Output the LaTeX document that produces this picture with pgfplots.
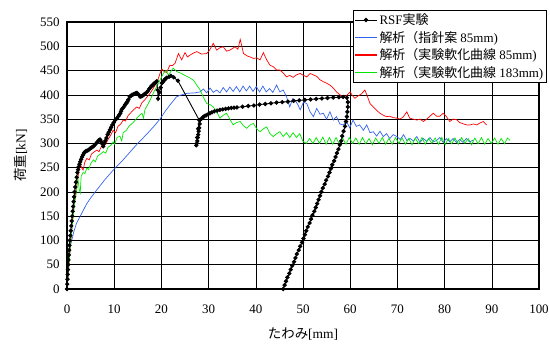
\documentclass[border=0pt]{standalone}
\usepackage{fontspec}
\setmainfont{Liberation Serif}
\newfontfamily\jp{Noto Sans CJK JP}
\usepackage{pgfplots}
\pgfplotsset{compat=1.18}
\definecolor{cblue}{RGB}{50,100,240}
\definecolor{cgreen}{RGB}{0,230,0}
\begin{document}
\begin{tikzpicture}
\begin{axis}[
 scale only axis, width=472bp, height=267bp,
 xmin=0, xmax=100, ymin=0, ymax=550,
 xtick={0,10,...,100}, ytick={0,50,...,550},
 grid=major, major grid style={black, line width=0.6bp},
 axis line style={line width=1.2bp},
 major tick length=0pt,
 tick label style={font=\fontsize{13}{15}\selectfont},
 xticklabel style={yshift=-12bp},
 yticklabel style={xshift=-4bp},
 /pgf/number format/assume math mode=true,
 xlabel={{\jp たわみ}[mm]}, ylabel={{\jp 荷重}[kN]},
 label style={font=\fontsize{13.5}{15}\selectfont},
 xlabel style={yshift=-8bp},
 ylabel style={yshift=6bp},
 legend cell align=left,
 legend style={at={(1.017,1.045)}, anchor=north east, draw=black, line width=0.6bp, fill=white,
   font=\fontsize{13}{14}\selectfont, inner sep=1.5bp, row sep=1bp},
 legend image code/.code={\draw[mark repeat=2,mark phase=2,#1] plot coordinates {(0bp,0bp) (11bp,0bp) (22bp,0bp)};},
]
\addlegendimage{black, line width=0.9pt, mark=*, mark size=1.7pt}
\addlegendentry{RSF{\jp 実験}}
\addlegendimage{cblue, line width=1.1pt}
\addlegendentry{{\jp 解析（指針案} 85mm)}
\addlegendimage{red, line width=1.1pt}
\addlegendentry{{\jp 解析（実験軟化曲線} 85mm)}
\addlegendimage{cgreen, line width=1.1pt}
\addlegendentry{{\jp 解析（実験軟化曲線} 183mm)}

% blue
\addplot[cblue, line width=0.7pt, forget plot] coordinates {
(0,0)(0.3,50)(0.6,85)(1,100)(1.5,120)(2,135)(2.75,149)(3.5,163)(4.2,176)(5.2,190)(6.3,204)(8,225)(9.8,245)(11.8,265)(13.7,286)(15,300)(17,320)(18.5,336)(19.7,350)(20.8,366)(21.8,379)(23.2,396)(24.3,400)(25.4,403)(27,404)(28.2,406)
(28.9,412)(29.6,404)(30.3,414)(31,405)(31.7,410)(32.4,404)(33.1,415)(33.8,406)(34.5,416)(35.2,407)(35.9,417)(36.6,406)(37.3,418)(38,408)(38.7,418)(39.4,407)(40.1,417)(40.8,406)(41.5,418)(42.2,406)(42.9,413)(43.6,405)(44.4,420)(45.1,406)(45.8,410)(46.5,396)(47.2,375)(47.8,392)(48.3,389)(48.9,380)(49.4,369)(50.1,385)(50.8,382)(51.5,365)(52.2,355)(52.9,372)(53.6,360)(54.3,362)(55.0,350)(55.7,365)(56.4,348)(57.1,355)(57.8,340)(58.5,338)(59.2,345)(59.9,332)(60.6,348)(61.3,335)(62.0,338)(62.8,327)(63.5,338)(64.2,322)(64.9,324)(65.6,315)(66.3,325)(67.0,314)(67.7,320)(68.4,310)(69.1,318)(69.9,314)(70.6,308)(71.3,318)(72.0,306)(72.7,310)(73.4,305)(74.1,314)(74.8,302)(75.5,310)(76.2,304)(76.9,312)(77.6,303)(78.3,306)(79.0,312)(79.7,302)(80.4,310)(81.1,303)(81.8,310)(82.5,302)(83.2,308)(83.9,302)(84.6,310)(85.3,303)(86.1,307)
};
% red
\addplot[red, line width=0.7pt, forget plot] coordinates {
(0,0)(0.5,60)(1,120)(1.5,175)(2,210)(2.4,235)(2.8,259)(3.1,250)(3.4,245)(3.8,262)(4.2,269)(4.7,266)(5.2,278)(5.7,282)(6.3,286)(6.8,283)(7.2,292)(7.7,300)(8.2,298)(8.7,308)(9.2,316)(9.8,327)(10.3,322)(10.8,335)(11.4,340)(11.9,348)(12.4,346)(13.0,358)(13.6,364)(14.2,370)(14.8,375)(15.3,372)(15.9,384)(16.5,390)(17.0,396)(17.6,403)(18.2,412)(18.8,422)(19.3,432)(19.7,444)(20.1,453)(20.6,448)(21.1,446)(21.8,461)(22.3,460)(22.9,465)(23.6,485)(24.3,472)(25.0,487)(25.5,478)(26.1,482)(26.8,486)(27.5,489)(28.5,484)(29.6,485)(30.2,492)(31.0,506)(31.7,492)(32.4,497)(33.1,499)(33.8,490)(34.5,492)(35.0,495)(35.6,499)(36.2,494)(36.7,514)(37.4,485)(38.2,480)(38.8,478)(39.5,475)(40.2,476)(40.9,472)(41.6,487)(42.3,472)(43.0,461)(43.7,458)(44.4,451)(45.1,451)(45.8,445)(46.5,437)(47.2,440)(47.9,436)(48.6,441)(49.4,444)(50.1,440)(50.8,437)(51.5,444)(52.2,441)(52.9,438)(53.6,431)(54.3,427)(55.0,424)(55.7,420)(56.4,414)(57.1,406)(57.8,400)(58.5,396)(59.2,398)(60.0,406)(60.5,398)(61.0,393)(61.7,398)(62.4,402)(63.1,410)(63.6,398)(64.2,382)(64.9,375)(65.6,368)(66.3,362)(67.0,358)(67.7,355)(68.4,356)(69.1,353)(69.9,352)(70.5,350)(71.2,354)(72.0,365)(72.6,352)(73.3,350)(74.1,348)(74.8,350)(75.5,345)(76.2,350)(76.9,356)(77.6,362)(78.3,356)(79.0,356)(79.7,362)(80.4,355)(81.1,345)(81.8,350)(82.5,349)(83.2,343)(84.0,340)(84.7,338)(85.4,338)(86.1,340)(86.8,338)(87.5,342)(88.2,345)(88.9,338)
};
% green
\addplot[cgreen, line width=0.7pt, forget plot] coordinates {
(0,0)(0.4,50)(0.8,100)(1.2,140)(1.6,175)(2.0,200)(2.3,228)(2.6,205)(2.8,198)(3.0,232)(3.4,240)(3.8,238)(4.2,249)(4.6,246)(5.0,258)(5.6,266)(6.0,262)(6.5,274)(7.1,278)(7.7,283)(8.2,280)(8.7,292)(9.3,296)(9.8,303)(10.1,298)(10.6,312)(11.2,315)(11.6,305)(11.9,322)(12.6,327)(13.1,335)(13.7,340)(14.3,346)(14.8,352)(15.4,358)(15.9,362)(16.2,352)(16.5,369)(17.0,378)(17.6,389)(18.3,404)(19.0,417)(19.7,430)(20.4,444)(21.0,450)(21.5,440)(22.0,448)(22.5,455)(23.2,448)
(24,445)(25,440)(26,435)(26.8,430)(27.5,420)(28.2,410)(28.9,395)(29.6,382)(30.3,380)(31.0,375)(31.7,365)(32.4,352)(33.1,358)(33.8,362)(34.5,350)(35.2,338)(35.9,343)(36.7,345)(37.4,336)(38.1,331)(38.8,338)(39.5,341)(40.2,330)(40.9,324)(41.6,330)(42.3,334)(43.0,320)(43.7,314)(44.4,320)(45.1,324)(45.8,314)(46.5,322)(47.2,312)(47.9,322)(48.6,312)(49.3,320)(50.0,304)(50.7,300)(51.4,310)(52.1,300)(52.8,312)(53.5,300)(54.2,313)(54.9,298)(55.6,312)(56.3,298)(57.0,312)(57.7,299)(58.4,311)(59.1,298)(59.8,312)(60.5,300)(61.2,311)(61.9,298)(62.6,312)(63.3,299)(64.0,310)(64.7,297)(65.4,311)(66.1,300)(66.8,312)(67.5,298)(68.2,310)(68.9,298)(69.6,312)(70.3,300)(71.0,311)(71.7,298)(72.4,310)(73.1,297)(73.8,311)(74.5,299)(75.2,312)(75.9,298)(76.6,310)(77.3,300)(78.0,311)(78.7,298)(79.4,312)(80.1,297)(80.8,310)(81.5,299)(82.2,311)(82.9,298)(83.6,312)(84.3,300)(85.0,310)(85.7,297)(86.4,311)(87.1,299)(87.8,312)(88.5,298)(89.2,310)(89.9,300)(90.6,311)(91.3,298)(92.0,310)(92.7,299)(93.3,311)(93.9,306)
};
% black experiment
\addplot[black, line width=0.9pt, mark=*, mark size=1.7pt, forget plot] coordinates {
(0,0)(0.05,10)(0.1,20)(0.15,30)(0.2,40)(0.25,50)(0.3,60)(0.38,70)(0.45,80)(0.52,90)(0.6,100)(0.7,110)(0.8,120)(0.9,130)(1.0,140)(1.1,150)(1.2,160)(1.3,170)(1.4,180)(1.5,190)(1.6,200)(1.75,210)(1.9,220)(2.05,230)(2.2,240)(2.35,246)(2.5,252)(2.65,257)(2.8,262)(3.0,267)(3.2,272)(3.4,276)(3.6,280)(3.8,282)(4.0,284)(4.25,285)(4.5,286)(4.75,288)(5.0,290)(5.3,292)(5.6,294)(5.9,297)(6.2,300)(6.45,303)(6.7,306)(7.0,308)(7.2,304)(7.4,300)(7.7,294)(7.9,300)(8.1,305)(8.35,311)(8.6,318)(8.85,323)(9.1,328)(9.35,333)(9.6,338)(9.9,343)(10.2,348)(10.6,352)(10.9,356)(11.1,359)(11.3,362)(11.45,366)(11.6,370)(11.85,373)(12.1,376)(12.35,380)(12.6,383)(12.8,386)(13.0,390)(13.3,396)(13.55,398)(13.8,400)(14.05,401)(14.3,402)(14.55,403)(14.8,404)(15.2,400)(15.5,396)(15.75,397)(16.0,398)(16.25,400)(16.5,402)(16.9,405)(17.15,408)(17.4,412)(17.65,415)(17.9,418)(18.15,420)(18.4,423)(18.7,425)(19.0,428)(19.2,410)(19.3,392)(19.6,405)(19.85,415)(20.1,424)(20.35,427)(20.6,430)(20.85,433)(21.1,435)(21.6,437)(22.0,439)(22.6,436)(23.5,429)
(28.0,348)(27.8,330)(27.6,312)(27.4,296)(27.5,300)(27.6,305)(27.7,312)(27.8,318)(27.9,325)(28.0,332)(28.1,340)(28.2,348)(28.5,351)(28.8,354)(29.1,356)(29.5,358)(29.9,360)(30.3,362)(30.7,364)(31.2,366)(31.8,367.5)(32.4,369)(33.0,370)(33.6,371)(34.2,372)(34.8,373)(35.4,373.5)(36.0,374)(37.2,375.5)(38.4,377)(39.6,378)(40.8,380)(42.0,381)(43.2,382.5)(44.4,384)(45.6,385)(46.8,386)(48.0,387.5)(49.2,388.5)(50.4,389.5)(51.6,390.5)(52.8,391.5)(54.0,392.5)(55.2,393.5)(56.4,394.5)(57.6,395)(58.5,395.5)(59.3,394)
(59.5,385)(59.5,375)(59.4,365)(59.3,355)(59.1,345)(58.9,335)(58.6,325)(58.3,315)(58.1,305)(57.8,297)(57.5,288)(57.2,280)(56.9,272)(56.6,264)(56.2,256)(55.9,248)(55.6,240)(55.3,232)(54.9,224)(54.6,216)(54.2,208)(53.9,200)(53.6,192)(53.3,184)(53.0,176)(52.7,168)(52.4,160)(52.0,152)(51.7,144)(51.4,136)(51.0,128)(50.7,120)(50.4,112)(50.1,104)(49.8,96)(49.4,88)(49.1,80)(48.7,72)(48.4,64)(48.1,56)(47.7,48)(47.4,40)(47.1,32)(46.7,24)(46.4,16)(46.1,8)(45.8,0)
};
\end{axis}
\pgfresetboundingbox
\path (current axis.south west) ++(-67bp,-56bp) rectangle ++(550bp,345bp);
\end{tikzpicture}
\end{document}
